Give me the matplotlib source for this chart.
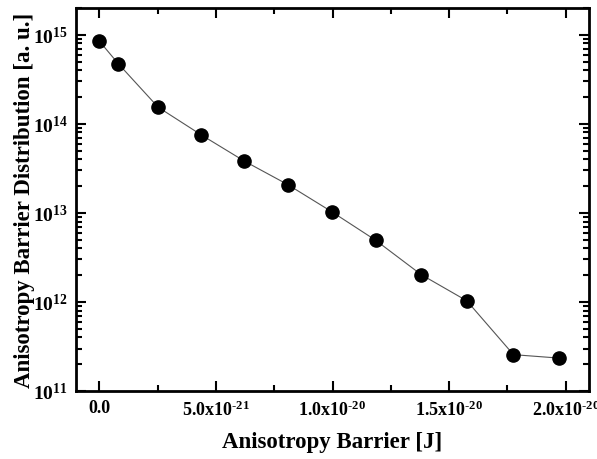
import math
import matplotlib
matplotlib.use("Agg")
import matplotlib.pyplot as plt
from matplotlib.ticker import FixedLocator, LogLocator, FuncFormatter, NullFormatter

# Donnees
barrier = [0.0, 0.081e-20, 0.252e-20, 0.436e-20, 0.621e-20, 0.808e-20,
           0.997e-20, 1.185e-20, 1.380e-20, 1.576e-20, 1.776e-20, 1.973e-20]
distribution = [8.5e14, 4.75e14, 1.54e14, 7.55e13, 3.83e13, 2.08e13,
                1.03e13, 4.93e12, 2.03e12, 1.03e12, 2.56e11, 2.34e11]

x_ticks = [0.0, 0.5e-20, 1.0e-20, 1.5e-20, 2.0e-20]
x_ticklabels = ["0.0", r"$\mathbf{5.0x10^{\text{-}21}}$", r"$\mathbf{1.0x10^{\text{-}20}}$",
                r"$\mathbf{1.5x10^{\text{-}20}}$", r"$\mathbf{2.0x10^{\text{-}20}}$"]

plt.rcParams['font.family'] = 'Liberation Serif'
plt.rcParams['font.weight'] = 'bold'
plt.rcParams['mathtext.fontset'] = 'custom'
plt.rcParams['mathtext.rm'] = 'Liberation Serif:bold'
plt.rcParams['mathtext.bf'] = 'Liberation Serif:bold'
plt.rcParams['mathtext.it'] = 'Liberation Serif:bold'

fig = plt.figure(figsize=(5.97, 4.6), dpi=100)
ax = fig.add_axes([76/597, 1-392/460, (589-76)/597, (392-9)/460])

ax.plot(barrier, distribution, '-', color='#555555', lw=0.8, zorder=2)
ax.plot(barrier, distribution, 'o', color='black', ms=9.5, zorder=3)

ax.set_yscale('log')
ax.set_xlim(-0.1e-20, 2.1e-20)
ax.set_ylim(1e11, 2e15)

ax.xaxis.set_major_locator(FixedLocator(x_ticks))
ax.xaxis.set_minor_locator(FixedLocator([0.25e-20, 0.75e-20, 1.25e-20, 1.75e-20]))
ax.set_xticklabels(x_ticklabels)

ax.yaxis.set_major_locator(LogLocator(base=10, numticks=10))
ax.yaxis.set_minor_locator(LogLocator(base=10, subs=range(2, 10), numticks=20))
ax.yaxis.set_major_formatter(FuncFormatter(lambda v, p: r"$\mathbf{10^{%d}}$" % round(math.log10(v))))
ax.yaxis.set_minor_formatter(NullFormatter())

ax.tick_params(which='both', direction='in', top=True, right=True, width=1.5)
ax.tick_params(which='major', length=7)
ax.tick_params(which='minor', length=4)
ax.tick_params(axis='x', which='major', pad=6, labelsize=13)
ax.tick_params(axis='y', which='major', pad=6, labelsize=14)
for s in ax.spines.values():
    s.set_linewidth(2)

ax.set_xlabel("Anisotropy Barrier [J]", fontsize=16.5, fontweight='bold')
ax.set_ylabel("Anisotropy Barrier Distribution [a. u.]", fontsize=16.5, fontweight='bold')
ax.xaxis.set_label_coords(0.5, -0.105)
ax.yaxis.set_label_coords(-0.08, 0.5)

fig.savefig("out.png", dpi=100)
